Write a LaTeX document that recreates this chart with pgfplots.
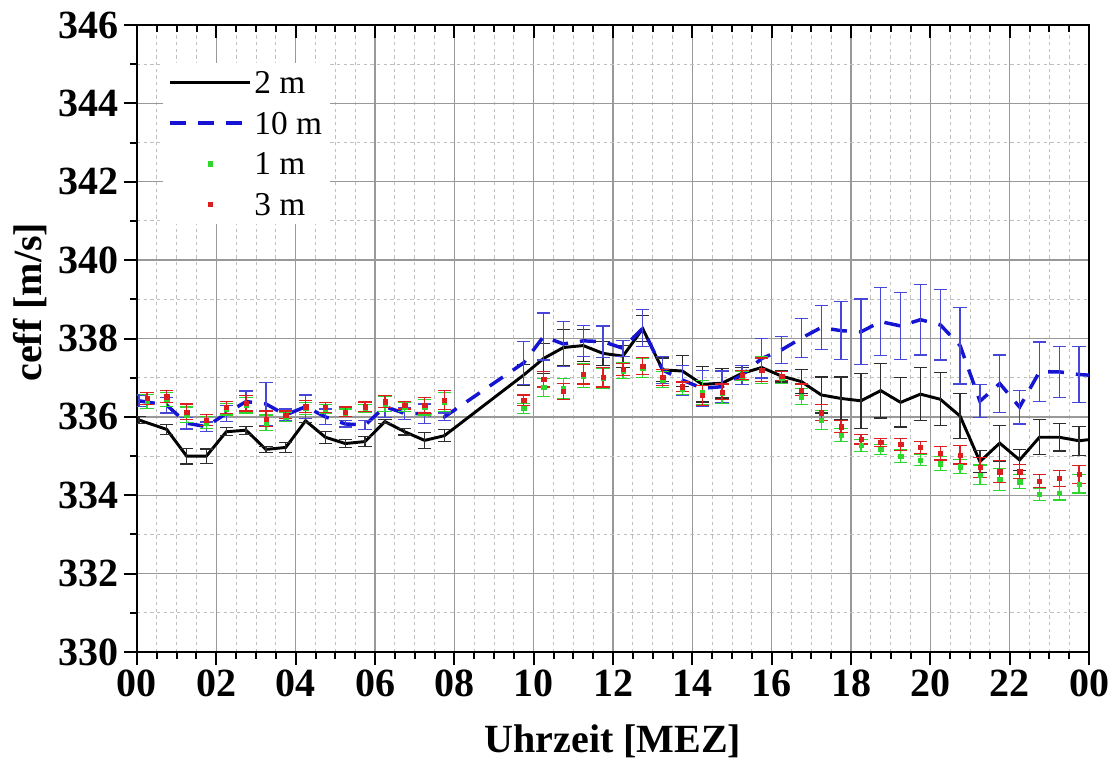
\documentclass[border=0pt]{standalone}
\usepackage{pgfplots}
\pgfplotsset{compat=1.18}
\usepackage{pgfplotstable}
\usepackage{fontspec}
\setmainfont{Liberation Serif}

\definecolor{cblue}{RGB}{20,20,210}
\definecolor{cblueerr}{RGB}{70,70,215}
\definecolor{cblackerr}{RGB}{45,45,45}
\definecolor{cgreen}{RGB}{45,215,45}
\definecolor{cred}{RGB}{220,30,30}

\pgfplotstableread{
x y e
0.05 335.92 0.08
0.75 335.68 0.12
1.25 335.00 0.20
1.75 335.00 0.18
2.25 335.62 0.10
2.75 335.66 0.10
3.25 335.17 0.08
3.75 335.22 0.12
4.25 335.90 0.05
4.75 335.48 0.15
5.25 335.32 0.10
5.75 335.37 0.12
6.25 335.88 0.05
6.75 335.62 0.08
7.25 335.40 0.20
7.75 335.52 0.15
9.75 337.07 0.27
10.25 337.49 0.38
10.75 337.77 0.45
11.25 337.82 0.40
11.75 337.62 0.30
12.25 337.55 0.28
12.75 338.25 0.33
13.25 337.20 0.30
13.75 337.17 0.40
14.25 336.83 0.45
14.75 336.86 0.38
15.25 337.11 0.15
15.75 337.26 0.25
16.25 337.04 0.15
16.75 336.90 0.30
17.25 336.56 0.46
17.75 336.47 0.55
18.25 336.41 0.70
18.75 336.67 0.70
19.25 336.37 0.63
19.75 336.58 0.67
20.25 336.45 0.68
20.75 336.02 0.58
21.25 334.86 0.28
21.75 335.33 0.46
22.25 334.90 0.26
22.75 335.48 0.45
23.25 335.48 0.35
23.75 335.39 0.37
24.25 335.45 0.35
}\tblack

\pgfplotstableread{
x y e
0.05 336.41 0.15
0.75 336.30 0.20
1.25 335.84 0.15
1.75 335.75 0.12
2.25 336.09 0.20
2.75 336.39 0.27
3.25 336.33 0.55
3.75 336.05 0.15
4.25 336.26 0.30
4.75 336.00 0.20
5.25 335.82 0.08
5.75 335.79 0.12
6.25 336.26 0.27
6.75 336.09 0.15
7.25 336.08 0.25
7.75 336.00 0.10
9.75 337.38 0.55
10.25 338.05 0.60
10.75 337.86 0.58
11.25 337.94 0.40
11.75 337.92 0.40
12.25 337.75 0.20
12.75 338.26 0.47
13.25 337.20 0.35
13.75 336.94 0.38
14.25 336.73 0.45
14.75 336.77 0.40
15.25 337.07 0.25
15.75 337.49 0.50
16.25 337.71 0.35
16.75 338.01 0.50
17.25 338.28 0.57
17.75 338.20 0.74
18.25 338.17 0.84
18.75 338.43 0.87
19.25 338.32 0.85
19.75 338.48 0.90
20.25 338.35 0.90
20.75 337.82 0.98
21.25 336.40 0.42
21.75 336.85 0.73
22.25 336.25 0.43
22.75 337.15 0.76
23.25 337.15 0.65
23.75 337.08 0.72
24.25 337.05 0.70
}\tblue

\pgfplotstableread{
x y e
0.25 336.40 0.18
0.75 336.45 0.18
1.25 336.05 0.20
1.75 335.85 0.15
2.25 336.20 0.15
2.75 336.30 0.20
3.25 335.85 0.20
3.75 336.00 0.12
4.25 336.22 0.15
4.75 336.20 0.12
5.25 336.10 0.10
5.75 336.22 0.10
6.25 336.33 0.20
6.75 336.25 0.12
7.25 336.25 0.20
7.75 336.38 0.25
9.75 336.22 0.13
10.25 336.75 0.22
10.75 336.72 0.25
11.25 337.05 0.30
11.75 336.98 0.25
12.25 337.18 0.20
12.75 337.25 0.25
13.25 336.95 0.20
13.75 336.72 0.15
14.25 336.62 0.30
14.75 336.60 0.25
15.25 337.05 0.12
15.75 337.20 0.35
16.25 337.00 0.15
16.75 336.52 0.20
17.25 335.92 0.25
17.75 335.54 0.17
18.25 335.27 0.15
18.75 335.17 0.12
19.25 335.00 0.16
19.75 334.90 0.15
20.25 334.81 0.18
20.75 334.73 0.18
21.25 334.52 0.25
21.75 334.41 0.28
22.25 334.35 0.17
22.75 334.02 0.15
23.25 334.05 0.17
23.75 334.29 0.23
}\tgreen

\pgfplotstableread{
x y e
0.25 336.47 0.15
0.75 336.52 0.15
1.25 336.13 0.20
1.75 335.92 0.15
2.25 336.24 0.15
2.75 336.35 0.20
3.25 335.95 0.20
3.75 336.05 0.10
4.25 336.26 0.15
4.75 336.24 0.12
5.25 336.13 0.12
5.75 336.26 0.12
6.25 336.39 0.15
6.75 336.30 0.10
7.25 336.30 0.20
7.75 336.43 0.25
9.75 336.43 0.13
10.25 336.96 0.20
10.75 336.65 0.20
11.25 337.09 0.25
11.75 337.01 0.25
12.25 337.21 0.15
12.75 337.30 0.22
13.25 337.01 0.20
13.75 336.77 0.12
14.25 336.55 0.25
14.75 336.64 0.20
15.25 337.07 0.12
15.75 337.20 0.30
16.25 337.04 0.12
16.75 336.69 0.15
17.25 336.11 0.20
17.75 335.75 0.15
18.25 335.43 0.12
18.75 335.35 0.10
19.25 335.30 0.15
19.75 335.22 0.16
20.25 335.07 0.17
20.75 335.03 0.23
21.25 334.71 0.25
21.75 334.60 0.28
22.25 334.60 0.18
22.75 334.36 0.17
23.25 334.43 0.20
23.75 334.53 0.23
}\tred

\pgfplotsset{
  legend image code/.code={\draw[mark repeat=2,mark phase=2,#1] plot coordinates {(0pt,0pt) (30pt,0pt) (60pt,0pt)};},
}

\begin{document}
\begin{tikzpicture}
\begin{axis}[
  at={(0,0)}, anchor=south west,
  scale only axis, width=714pt, height=470.25pt,
  xmin=0, xmax=24, ymin=330, ymax=346,
  xtick={0,2,...,24}, xticklabels={00,02,04,06,08,10,12,14,16,18,20,22,00},
  ytick={330,332,...,346}, yticklabels={330,332,334,336,338,340,342,344,346},
  minor x tick num=3, minor y tick num=1,
  xtick pos=left, ytick pos=left,
  tick align=outside,
  major tick length=10pt, minor tick length=5pt,
  every tick/.style={line width=1.5pt, black},
  axis line style={line width=2pt},
  grid=both,
  major grid style={line width=1pt, color=black!40},
  minor grid style={line width=0.7pt, color=black!25, dash pattern=on 2.5pt off 2.5pt},
  ticklabel style={font=\fontsize{30}{36}\selectfont\bfseries},
  xlabel={Uhrzeit [MEZ]}, ylabel={ceff [m/s]},
  label style={font=\fontsize{30}{36}\selectfont\bfseries},
  xlabel style={at={(axis description cs:0.5,-0.142)}, anchor=center},
  ylabel style={at={(axis description cs:-0.112,0.558)}, anchor=center},
  legend style={at={(axis description cs:0.027,0.94)}, anchor=north west,
    draw=none, fill=white, font=\fontsize{25}{30}\selectfont,
    row sep=13.5pt, inner xsep=4pt, inner ysep=6pt,
    nodes={inner ysep=0pt, text height=17pt, text depth=0pt}},
  legend cell align=left,
]
\addplot[black, line width=2.2pt,
  error bars/.cd, y dir=both, y explicit, error mark=-,
  error bar style={line width=0.9pt, cblackerr, solid},
  error mark options={line width=0.9pt, cblackerr, mark size=5pt, solid, rotate=90}]
  table[x=x, y=y, y error=e] {\tblack};
\addlegendentry{2 m}
\addplot[cblue, line width=2.6pt, dash pattern=on 12pt off 9pt,
  error bars/.cd, y dir=both, y explicit, error mark=-,
  error bar style={line width=0.9pt, cblueerr, solid},
  error mark options={line width=0.9pt, cblueerr, mark size=5pt, solid, rotate=90}]
  table[x=x, y=y, y error=e] {\tblue};
\addlegendentry{10 m}
\addplot[draw=none, only marks, mark=square*, mark size=1.6pt,
  mark options={draw=cgreen, fill=cgreen, line width=0.2pt},
  error bars/.cd, y dir=both, y explicit, error mark=-,
  error bar style={line width=0.9pt, draw=cgreen},
  error mark options={line width=0.9pt, draw=cgreen, mark size=5pt, rotate=90}]
  table[x=x, y=y, y error=e] {\tgreen};
\addlegendentry{1 m}
\addplot[draw=none, only marks, mark=square*, mark size=1.6pt,
  mark options={draw=cred, fill=cred, line width=0.2pt},
  error bars/.cd, y dir=both, y explicit, error mark=-,
  error bar style={line width=0.9pt, draw=cred},
  error mark options={line width=0.9pt, draw=cred, mark size=5pt, rotate=90}]
  table[x=x, y=y, y error=e] {\tred};
\addlegendentry{3 m}
\end{axis}
\begin{axis}[
  at={(0,0)}, anchor=south west,
  scale only axis, width=714pt, height=470.25pt,
  xmin=0, xmax=24, ymin=330, ymax=346,
  axis x line*=top, axis y line=none,
  xtick={0,2,...,24}, xticklabels={}, minor x tick num=3,
  tick align=inside,
  major tick length=10pt, minor tick length=5pt,
  every tick/.style={line width=1.5pt, black},
  axis line style={line width=2pt},
]
\end{axis}
\pgfresetboundingbox
\path[use as bounding box] (-102.75pt,-93pt) rectangle (732pt,489pt);
\end{tikzpicture}
\end{document}
